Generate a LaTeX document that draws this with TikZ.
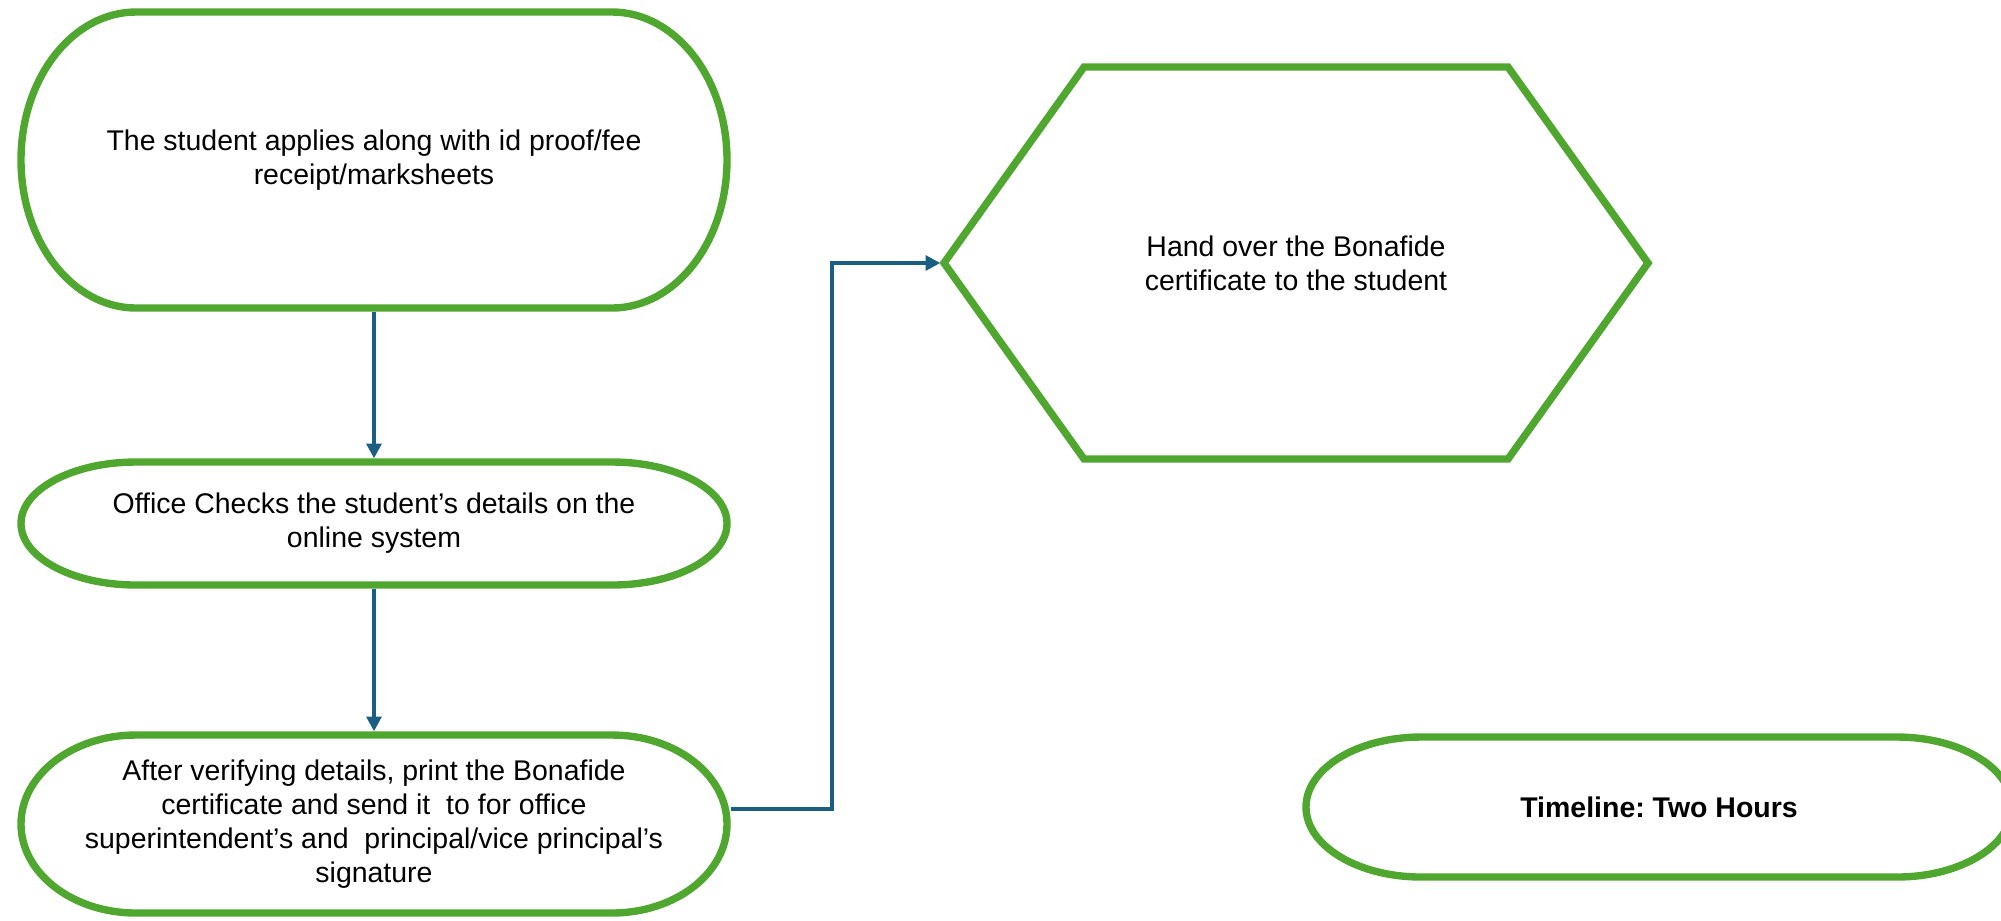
\documentclass[tikz,border=0pt]{standalone}
\usepackage{fontspec}
\setmainfont{Liberation Sans}
\usetikzlibrary{arrows.meta,calc}
\definecolor{boxgreen}{RGB}{80,167,47}
\definecolor{linkblue}{RGB}{26,94,132}
\frenchspacing
\tikzset{
	box/.style={inner sep=0pt, outer sep=0pt, minimum width=7.06cm, align=center, font=\fontsize{8.1}{9.7}\selectfont},
	outline/.style={draw=boxgreen, line width=2.1pt},
	link/.style={draw=linkblue, line width=1.05pt, ->, shorten <=1.05pt, shorten >=1.05pt},
}
\begin{document}
\begin{tikzpicture}[>={Triangle[length=4.2pt,width=4.2pt]}]
		\clip (0,0) rectangle (20.01,-9.20);

		\node[box, minimum height=2.96cm] at (3.74,-1.60) (apply) {The student applies along with id proof/fee\\receipt/marksheets};
		\node[box, minimum height=1.23cm] at (3.74,-5.235) (check) {Office Checks the student’s details on the\\online system};
		\node[box, minimum height=1.78cm] at (3.74,-8.24) (print) {After verifying details, print the Bonafide\\certificate and send it~ to for office\\superintendent’s and~ principal/vice principal’s\\signature};
		\node[box, minimum width=7.04cm, minimum height=3.92cm] at (12.96,-2.63) (hand) {Hand over the Bonafide\\certificate to the student};
		\node[box, minimum height=1.40cm, font=\fontsize{8.1}{9.7}\selectfont\bfseries] at (16.59,-8.07) (time) {Timeline: Two Hours};

		% terminator outlines
		\foreach \shp in {apply,check,print,time}
			\draw[outline] let \p1=(\shp.north), \p2=(\shp.south), \n1={0.5*(\y1-\y2)} in
				([xshift=1.15cm]\shp.north west) -- ([xshift=-1.15cm]\shp.north east)
				arc[start angle=90, end angle=-90, x radius=1.15cm, y radius=\n1]
				-- ([xshift=1.15cm]\shp.south west)
				arc[start angle=270, end angle=90, x radius=1.15cm, y radius=\n1] -- cycle;

		% hexagon
		\draw[outline] (hand.west) -- ([xshift=1.4cm]hand.north west) -- ([xshift=-1.4cm]hand.north east)
			-- (hand.east) -- ([xshift=-1.4cm]hand.south east) -- ([xshift=1.4cm]hand.south west) -- cycle;

		\draw[link] (apply) -- (check);
		\draw[link] (check) -- (print);
		\draw[link] ([yshift=1.5mm]print.east) -- ++(1.05,0) |- (hand.west);
\end{tikzpicture}
\end{document}
